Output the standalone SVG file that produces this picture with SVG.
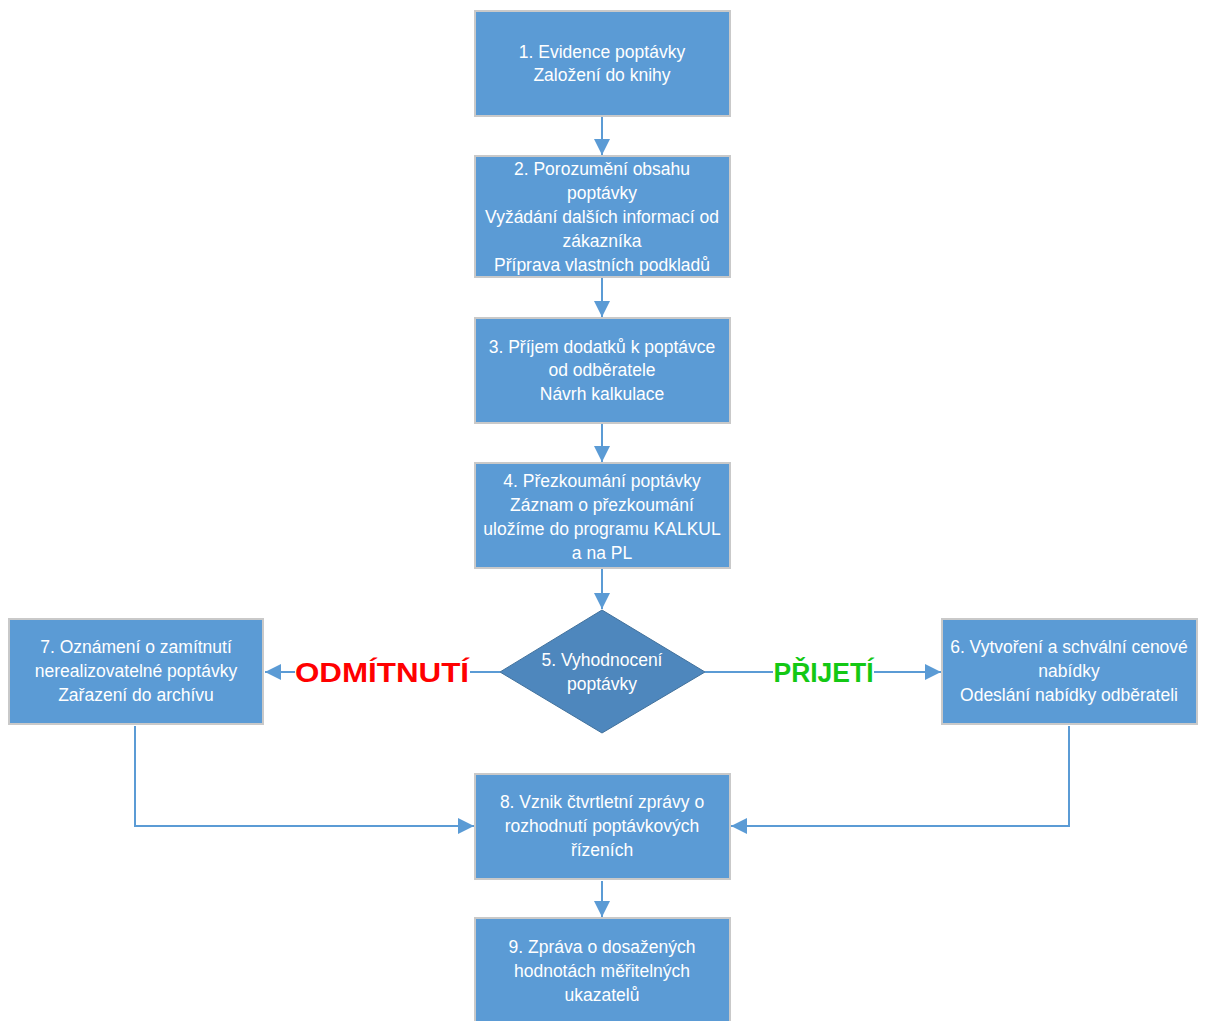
<svg xmlns="http://www.w3.org/2000/svg" width="1208" height="1021" viewBox="0 0 1208 1021">
  <style>
    .box { fill: #5b9bd5; stroke: #c9c9c9; stroke-width: 2; }
    .dia { fill: #4e87bd; stroke: #41719c; stroke-width: 1; }
    .txt { font-family: "Liberation Sans", Arial, sans-serif; font-size: 17.5px; fill: #ffffff; text-anchor: middle; }
    .con { fill: none; stroke: #5b9bd5; stroke-width: 2; }
    .lbl { font-family: "Liberation Sans", Arial, sans-serif; font-size: 27px; font-weight: bold; text-anchor: middle; }
  </style>
  <defs>
    <marker id="arrow" markerUnits="userSpaceOnUse" markerWidth="17" markerHeight="17" refX="16" refY="8" orient="auto">
      <path d="M0,0 L16,8 L0,16 z" fill="#5b9bd5"/>
    </marker>
  </defs>
  <rect width="1208" height="1021" fill="#ffffff"/>

  <g id="connectors">
    <line class="con" x1="602" y1="117" x2="602" y2="155" marker-end="url(#arrow)"/>
    <line class="con" x1="602" y1="278" x2="602" y2="317" marker-end="url(#arrow)"/>
    <line class="con" x1="602" y1="424" x2="602" y2="462" marker-end="url(#arrow)"/>
    <line class="con" x1="602" y1="569" x2="602" y2="609" marker-end="url(#arrow)"/>
    <!-- rejection branch -->
    <line class="con" x1="500" y1="672" x2="470" y2="672"/>
    <line class="con" x1="295" y1="672" x2="265" y2="672" marker-end="url(#arrow)"/>
    <!-- acceptance branch -->
    <line class="con" x1="705" y1="672" x2="773" y2="672"/>
    <line class="con" x1="874" y1="672" x2="941" y2="672" marker-end="url(#arrow)"/>
    <!-- merge into quarterly report -->
    <polyline class="con" points="135,726 135,826 474,826" marker-end="url(#arrow)"/>
    <polyline class="con" points="1069,726 1069,826 731,826" marker-end="url(#arrow)"/>
    <line class="con" x1="602" y1="881" x2="602" y2="917" marker-end="url(#arrow)"/>
    <text class="lbl" x="382" y="682" fill="#ff0000" textLength="174" lengthAdjust="spacingAndGlyphs">ODMÍTNUTÍ</text>
    <text class="lbl" x="823.5" y="682" fill="#14c814" textLength="100" lengthAdjust="spacingAndGlyphs">PŘIJETÍ</text>
  </g>

  <g id="n1">
    <rect class="box" x="475" y="11" width="255" height="105"/>
    <text class="txt" x="602" y="58">1. Evidence poptávky</text>
    <text class="txt" x="602" y="81">Založení do knihy</text>
  </g>

  <g id="n2">
    <rect class="box" x="475" y="156" width="255" height="121"/>
    <text class="txt" x="602" y="175">2. Porozumění obsahu</text>
    <text class="txt" x="602" y="199">poptávky</text>
    <text class="txt" x="602" y="223">Vyžádání dalších informací od</text>
    <text class="txt" x="602" y="247">zákazníka</text>
    <text class="txt" x="602" y="271">Příprava vlastních podkladů</text>
  </g>

  <g id="n3">
    <rect class="box" x="475" y="318" width="255" height="105"/>
    <text class="txt" x="602" y="353">3. Příjem dodatků k poptávce</text>
    <text class="txt" x="602" y="376">od odběratele</text>
    <text class="txt" x="602" y="400">Návrh kalkulace</text>
  </g>

  <g id="n4">
    <rect class="box" x="475" y="463" width="255" height="105"/>
    <text class="txt" x="602" y="487">4. Přezkoumání poptávky</text>
    <text class="txt" x="602" y="511">Záznam o přezkoumání</text>
    <text class="txt" x="602" y="535">uložíme do programu KALKUL</text>
    <text class="txt" x="602" y="559">a na PL</text>
  </g>

  <g id="n5">
    <polygon class="dia" points="602,610 705,672 602,733 500,672"/>
    <text class="txt" x="602" y="666">5. Vyhodnocení</text>
    <text class="txt" x="602" y="690">poptávky</text>
  </g>

  <g id="n6">
    <rect class="box" x="942" y="619" width="255" height="105"/>
    <text class="txt" x="1069" y="653">6. Vytvoření a schvální cenové</text>
    <text class="txt" x="1069" y="677">nabídky</text>
    <text class="txt" x="1069" y="701">Odeslání nabídky odběrateli</text>
  </g>

  <g id="n7">
    <rect class="box" x="9" y="619" width="254" height="105"/>
    <text class="txt" x="136" y="653">7. Oznámení o zamítnutí</text>
    <text class="txt" x="136" y="677">nerealizovatelné poptávky</text>
    <text class="txt" x="136" y="701">Zařazení do archívu</text>
  </g>

  <g id="n8">
    <rect class="box" x="475" y="774" width="255" height="105"/>
    <text class="txt" x="602" y="808">8. Vznik čtvrtletní zprávy o</text>
    <text class="txt" x="602" y="832">rozhodnutí poptávkových</text>
    <text class="txt" x="602" y="856">řízeních</text>
  </g>

  <g id="n9">
    <rect class="box" x="475" y="918" width="255" height="110"/>
    <text class="txt" x="602" y="953">9. Zpráva o dosažených</text>
    <text class="txt" x="602" y="977">hodnotách měřitelných</text>
    <text class="txt" x="602" y="1001">ukazatelů</text>
  </g>
</svg>
